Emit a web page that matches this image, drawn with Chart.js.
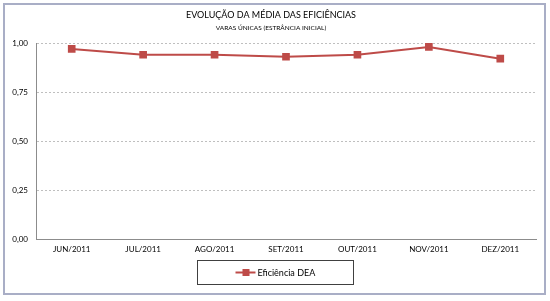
<!DOCTYPE html>
<html>
<head>
<meta charset="utf-8">
<script src="https://cdn.jsdelivr.net/npm/chart.js@4.4.0/dist/chart.umd.min.js"></script>
<style>
    html, body { margin: 0; padding: 0; background: #ffffff; }
    #wrap { width: 550px; height: 301px; }
</style>
</head>
<body>
<div id="wrap"><canvas id="myChart" width="550" height="301"></canvas></div>
<script>
var months = ['JUN/2011', 'JUL/2011', 'AGO/2011', 'SET/2011', 'OUT/2011', 'NOV/2011', 'DEZ/2011'];
var eficiencia = [0.97, 0.94, 0.94, 0.93, 0.94, 0.98, 0.92];
var yTicks = [0, 0.25, 0.5, 0.75, 1];

var lineColour = '#be4b48';
var fontName = 'Lato, "DejaVu Sans", sans-serif';

// outer frame round the whole chart
var framePlugin = {
    id: 'frame',
    beforeDraw: function (c) {
        var ctx = c.ctx;
        ctx.save();
        ctx.fillStyle = '#ffffff';
        ctx.fillRect(0, 0, c.width, c.height);
        ctx.strokeStyle = '#a9aec6';
        ctx.lineWidth = 2;
        ctx.strokeRect(4, 4, 541, 290);
        ctx.restore();
    }
};

// legend in a box with a line + square marker, drawn like the spreadsheet one
var legendBoxPlugin = {
    id: 'legendBox',
    afterDraw: function (c) {
        var ctx = c.ctx;
        var x = 197.5, y = 260.5, w = 156, h = 24;
        ctx.save();
        ctx.strokeStyle = '#404040';
        ctx.lineWidth = 1;
        ctx.strokeRect(x, y, w, h);

        var cy = y + h / 2;
        ctx.strokeStyle = lineColour;
        ctx.lineWidth = 2;
        ctx.beginPath();
        ctx.moveTo(x + 38, cy);
        ctx.lineTo(x + 58, cy);
        ctx.stroke();
        ctx.fillStyle = lineColour;
        ctx.fillRect(x + 45, cy - 3.5, 7, 7);

        ctx.fillStyle = '#000000';
        ctx.font = '9px ' + fontName;
        ctx.textBaseline = 'middle';
        ctx.fillText(c.data.datasets[0].label, x + 60, cy + 0.5);
        ctx.restore();
    }
};

var chart = new Chart(document.getElementById('myChart'), {
    type: 'line',
    data: {
        labels: months,
        datasets: [{
            label: 'Eficiência DEA',
            data: eficiencia,
            borderColor: lineColour,
            backgroundColor: lineColour,
            borderWidth: 2,
            pointStyle: 'rect',
            pointRadius: 4,
            pointHoverRadius: 4,
            tension: 0,
            fill: false
        }]
    },
    options: {
        responsive: false,
        animation: false,
        layout: {
            padding: { left: 6, right: 14, top: 0, bottom: 42 }
        },
        plugins: {
            legend: { display: false },
            tooltip: { enabled: false },
            title: {
                display: true,
                text: 'EVOLUÇÃO DA MÉDIA DAS EFICIÊNCIAS',
                color: '#000000',
                font: { family: fontName, size: 9, weight: 'normal' },
                padding: { top: 10, bottom: 3 }
            },
            subtitle: {
                display: true,
                text: 'VARAS ÚNICAS (ESTRÂNCIA INICIAL)',
                color: '#000000',
                font: { family: fontName, size: 6.5, weight: 'normal' },
                padding: { top: 0, bottom: 11.4 }
            }
        },
        scales: {
            x: {
                offset: true,
                grid: { display: false, drawTicks: false },
                border: { display: true, color: '#8c8c8c', width: 1 },
                ticks: {
                    color: '#000000',
                    font: { family: fontName, size: 8 },
                    padding: 6,
                    maxRotation: 0
                },
                afterFit: function (scale) {
                    scale.height = 20;
                }
            },
            y: {
                min: 0,
                max: 1,
                afterBuildTicks: function (scale) {
                    scale.ticks = yTicks.map(function (v) { return { value: v }; });
                },
                grid: {
                    color: '#bfbfbf',
                    drawTicks: false
                },
                border: { display: true, color: '#8c8c8c', width: 1, dash: [2, 2] },
                ticks: {
                    color: '#000000',
                    font: { family: fontName, size: 8 },
                    padding: 8,
                    callback: function (value) {
                        return value.toFixed(2).replace('.', ',');
                    }
                },
                afterFit: function (scale) {
                    scale.width = 30;
                }
            }
        }
    },
    plugins: [framePlugin, legendBoxPlugin]
});
</script>
</body>
</html>
